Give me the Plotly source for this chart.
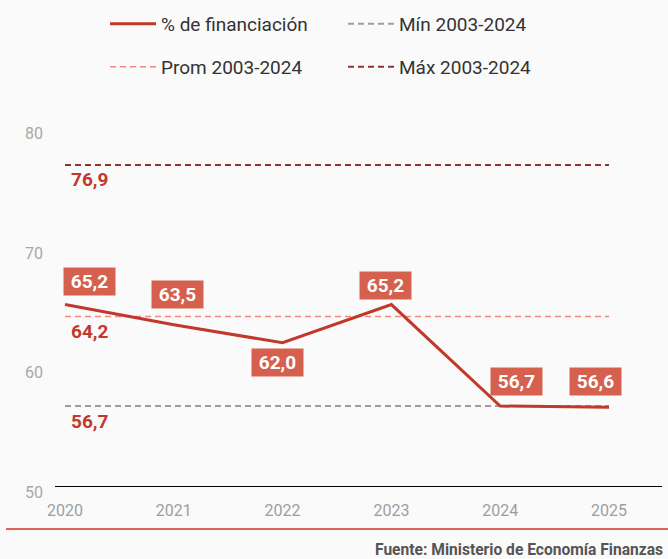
import plotly.graph_objects as go

years = [2020, 2021, 2022, 2023, 2024, 2025]
financiacion = [65.2, 63.5, 62.0, 65.2, 56.7, 56.6]
ref_names = ["Mín 2003-2024", "Prom 2003-2024", "Máx 2003-2024"]
ref_values = [56.7, 64.2, 76.9]
y_ticks = [50, 60, 70, 80]
source_text = "Fuente: Ministerio de Economía Finanzas"

def fmt(v):
    return f"{v:.1f}".replace(".", ",")

W, H = 668, 559
ML, MR, MT, MB = 55, 6, 104, 73
BG = "#fafafa"
RED = "#c0392b"
BOX = "#d5604d"
FONT = "Roboto"

fig = go.Figure()

ref_styles = {
    "Mín 2003-2024": dict(color="#9e9e9e", width=2, dash="6px,4px"),
    "Prom 2003-2024": dict(color="#f08a7c", width=1.5, dash="6px,4px"),
    "Máx 2003-2024": dict(color="#8b3535", width=2, dash="6px,4px"),
}
ref_legend = {"Mín 2003-2024": "legend", "Prom 2003-2024": "legend2", "Máx 2003-2024": "legend2"}
ref_rank = {"Mín 2003-2024": 2, "Prom 2003-2024": 1, "Máx 2003-2024": 2}

for name, val in zip(ref_names, ref_values):
    fig.add_trace(go.Scatter(
        x=[years[0], years[-1]], y=[val, val], mode="lines", name=name,
        line=ref_styles[name], legend=ref_legend[name], legendrank=ref_rank[name],
        hoverinfo="skip"))

fig.add_trace(go.Scatter(
    x=years, y=financiacion, mode="lines", name="% de financiación",
    line=dict(color=RED, width=3), legend="legend", legendrank=1, hoverinfo="skip"))

annotations = []
# data label offsets (px) per point: (xshift, yshift)
label_offsets = [(24.5, 23), (3.5, 30), (-5.5, -20), (-5.5, 19), (16.5, 24.4), (-13.5, 25.6)]
for x, y, (dx, dy) in zip(years, financiacion, label_offsets):
    annotations.append(dict(
        x=x, y=y, xref="x", yref="y", text=f"<b>{fmt(y)}</b>", showarrow=False,
        xanchor="center", yanchor="middle", xshift=dx, yshift=dy,
        width=51, height=27, borderpad=0, bgcolor=BOX,
        font=dict(family=FONT, size=19, color="white")))

for val in ref_values:
    annotations.append(dict(
        x=years[0], y=val, xref="x", yref="y", text=f"<b>{fmt(val)}</b>", showarrow=False,
        xanchor="left", yanchor="middle", xshift=4, yshift=-15,
        font=dict(family=FONT, size=19, color=RED)))

annotations.append(dict(
    x=1, y=0, xref="paper", yref="paper", text=f"<b>{source_text}</b>", showarrow=False,
    xanchor="right", yanchor="middle", xshift=3, yshift=-63.5,
    font=dict(family=FONT, size=15.6, color="#555555")))

plot_h = H - MT - MB
plot_w = W - ML - MR
fig.add_shape(type="line", xref="paper", yref="paper",
              x0=(6 - ML) / plot_w, x1=(W - ML) / plot_w,
              y0=-(529 - (H - MB)) / plot_h, y1=-(529 - (H - MB)) / plot_h,
              line=dict(color="#d9655a", width=2))

x0 = 2020 - 10 / 108.8
x1 = x0 + plot_w / 108.8

legend_common = dict(
    orientation="h", xref="container", yref="container",
    x=105 / W, xanchor="left", yanchor="middle",
    entrywidth=177, entrywidthmode="pixels", itemwidth=46,
    traceorder="normal",
    bgcolor="rgba(0,0,0,0)", font=dict(family=FONT, size=19, color="#333333"),
    itemclick=False, itemdoubleclick=False)

fig.update_layout(
    width=W, height=H,
    margin=dict(l=ML, r=MR, t=MT, b=MB, autoexpand=False),
    paper_bgcolor=BG, plot_bgcolor=BG,
    font=dict(family=FONT),
    showlegend=True,
    legend=dict(legend_common, y=1 - 24 / H),
    legend2=dict(legend_common, y=1 - 67 / H),
    annotations=annotations,
    xaxis=dict(range=[x0, x1], tickvals=years, ticktext=[str(y) for y in years],
               showgrid=False, zeroline=False, showline=True, linecolor="black", linewidth=1,
               ticks="", ticklabelstandoff=10, automargin=False,
               tickfont=dict(family=FONT, size=16, color="#9e9e9e")),
    yaxis=dict(range=[50, 82], tickvals=y_ticks, showgrid=False, zeroline=False,
               showline=False, ticks="", ticklabelstandoff=11, ticklabelshift=6,
               automargin=False,
               tickfont=dict(family=FONT, size=16, color="#a8a8a8")),
)

fig.write_html(
    "out.html",
    config={"displayModeBar": False},
    post_script="document.body.style.margin='0';document.body.style.background='#fafafa';",
)
